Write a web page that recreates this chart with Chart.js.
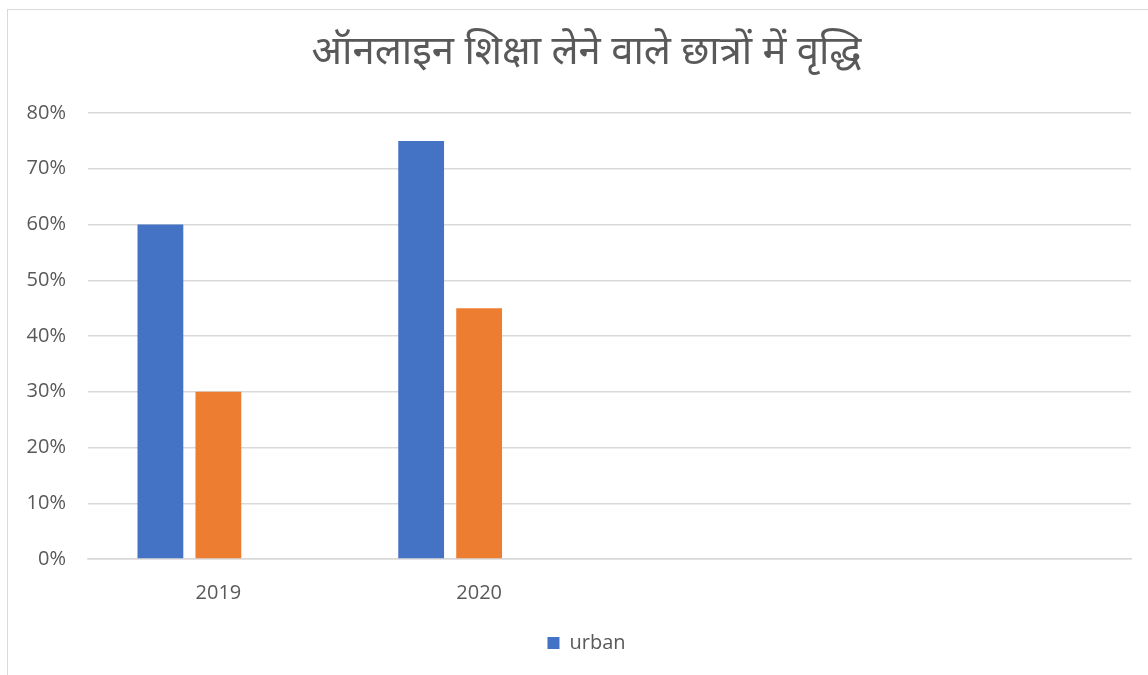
<!DOCTYPE html>
<html>
<head>
<meta charset="utf-8">
<script src="https://cdn.jsdelivr.net/npm/chart.js@4"></script>
<style>
  html, body { margin: 0; padding: 0; background: #fff; }
  #wrap { position: absolute; left: 0; top: 0; width: 1148px; height: 675px; }
  #frame { position: absolute; left: 7px; top: 9px; width: 1160px; height: 700px; border: 1px solid #d9d9d9; box-sizing: border-box; }
</style>
</head>
<body>
<div id="frame"></div>
<div id="wrap"><canvas id="grafica"></canvas></div>
<script>
// datos
var titulo = 'ऑनलाइन शिक्षा लेने वाले छात्रों में वृद्धि';
var categorias = ['2019', '2020', '', ''];
var urbano = [60, 75];
var serie2 = [30, 45];
var serie3 = [];
var yTicks = [0, 10, 20, 30, 40, 50, 60, 70, 80];

var gris = '#595959';
var ctx = document.getElementById('grafica');

// el marco del grafico original sigue fuera de la ventana: titulo y leyenda van algo a la derecha
var desplazar = {
    id: 'desplazar',
    afterLayout: function(chart) {
        [chart.titleBlock, chart.legend].forEach(function(b) {
            if (b) { b.left += 16; b.right += 16; }
        });
    }
};

var grafica = new Chart(ctx, {
    type: 'bar',
    data: {
        labels: categorias,
        datasets: [
            { label: 'urban', data: urbano, backgroundColor: '#4472C4' },
            { label: '', data: serie2, backgroundColor: '#ED7D31' },
            { label: '', data: serie3, backgroundColor: '#A5A5A5' }
        ]
    },
    options: {
        responsive: true,
        maintainAspectRatio: false,
        animation: false,
        categoryPercentage: 0.667,
        barPercentage: 0.79,
        layout: { padding: { left: 10, right: 17, top: 0, bottom: 12 } },
        plugins: {
            title: {
                display: true,
                text: titulo,
                color: gris,
                font: { family: '"Noto Sans Devanagari", "Noto Sans", sans-serif', size: 40, weight: 'normal' },
                padding: { top: 33, bottom: 32 }
            },
            legend: {
                position: 'bottom',
                labels: {
                    color: gris,
                    font: { family: '"Open Sans", sans-serif', size: 20 },
                    boxWidth: 12,
                    boxHeight: 12,
                    padding: 14,
                    filter: function(item) { return item.text === 'urban'; }
                }
            },
            tooltip: { enabled: false }
        },
        scales: {
            x: {
                grid: { display: false },
                border: { color: '#d9d9d9', width: 1.5 },
                ticks: { color: gris, font: { family: '"Open Sans", sans-serif', size: 20 }, padding: 14 }
            },
            y: {
                min: 0,
                max: 80,
                afterBuildTicks: function(s) { s.ticks = yTicks.map(function(v) { return { value: v }; }); },
                afterFit: function(s) { s.width = 78; },
                grid: { color: '#d9d9d9', lineWidth: 1.5, drawTicks: false },
                border: { display: false },
                ticks: {
                    color: gris,
                    font: { family: '"Open Sans", sans-serif', size: 20 },
                    padding: 22,
                    callback: function(v) { return v + '%'; }
                }
            }
        }
    },
    plugins: [desplazar]
});
</script>
</body>
</html>
